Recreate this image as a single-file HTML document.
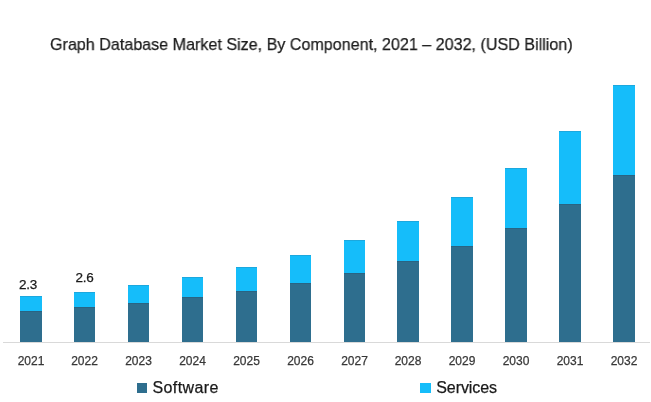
<!DOCTYPE html>
<html><head><meta charset="utf-8"><style>
html,body{margin:0;padding:0;background:#fff;}
body{width:651px;height:402px;position:relative;overflow:hidden;font-family:"Liberation Sans",sans-serif;}
.txt{will-change:transform;-webkit-text-stroke:0.25px currentColor;}
.t{position:absolute;left:50px;top:35px;font-size:17px;line-height:20px;color:#1c1c1c;white-space:nowrap;transform:scaleX(0.947);transform-origin:0 0;}
svg{position:absolute;left:0;top:0;}
.xl{position:absolute;top:354px;width:40px;text-align:center;font-size:12px;line-height:14px;color:#383838;}
.dl{position:absolute;font-size:13.5px;line-height:16px;letter-spacing:-0.3px;color:#1a1a1a;white-space:nowrap;}
.lg{position:absolute;top:378px;font-size:16px;line-height:19px;color:#1a1a1a;white-space:nowrap;}
.sq{position:absolute;top:383px;width:10px;height:10px;}
</style></head><body>
<svg width="651" height="402" viewBox="0 0 651 402" shape-rendering="crispEdges">
<rect x="3" y="342" width="647" height="1" fill="#d9d9d9"/>
<rect x="20" y="296" width="22" height="15" fill="#15BDFA"/>
<rect x="20" y="296" width="22" height="1" fill="#1CA8DE"/>
<rect x="20" y="311" width="22" height="31" fill="#2E6E8E"/>
<rect x="20" y="311" width="22" height="1" fill="#296483"/>
<rect x="74" y="292" width="21" height="15" fill="#15BDFA"/>
<rect x="74" y="292" width="21" height="1" fill="#1CA8DE"/>
<rect x="74" y="307" width="21" height="35" fill="#2E6E8E"/>
<rect x="74" y="307" width="21" height="1" fill="#296483"/>
<rect x="128" y="285" width="21" height="18" fill="#15BDFA"/>
<rect x="128" y="285" width="21" height="1" fill="#1CA8DE"/>
<rect x="128" y="303" width="21" height="39" fill="#2E6E8E"/>
<rect x="128" y="303" width="21" height="1" fill="#296483"/>
<rect x="182" y="277" width="21" height="20" fill="#15BDFA"/>
<rect x="182" y="277" width="21" height="1" fill="#1CA8DE"/>
<rect x="182" y="297" width="21" height="45" fill="#2E6E8E"/>
<rect x="182" y="297" width="21" height="1" fill="#296483"/>
<rect x="236" y="267" width="21" height="24" fill="#15BDFA"/>
<rect x="236" y="267" width="21" height="1" fill="#1CA8DE"/>
<rect x="236" y="291" width="21" height="51" fill="#2E6E8E"/>
<rect x="236" y="291" width="21" height="1" fill="#296483"/>
<rect x="290" y="255" width="21" height="28" fill="#15BDFA"/>
<rect x="290" y="255" width="21" height="1" fill="#1CA8DE"/>
<rect x="290" y="283" width="21" height="59" fill="#2E6E8E"/>
<rect x="290" y="283" width="21" height="1" fill="#296483"/>
<rect x="344" y="240" width="21" height="33" fill="#15BDFA"/>
<rect x="344" y="240" width="21" height="1" fill="#1CA8DE"/>
<rect x="344" y="273" width="21" height="69" fill="#2E6E8E"/>
<rect x="344" y="273" width="21" height="1" fill="#296483"/>
<rect x="397" y="221" width="22" height="40" fill="#15BDFA"/>
<rect x="397" y="221" width="22" height="1" fill="#1CA8DE"/>
<rect x="397" y="261" width="22" height="81" fill="#2E6E8E"/>
<rect x="397" y="261" width="22" height="1" fill="#296483"/>
<rect x="451" y="197" width="22" height="49" fill="#15BDFA"/>
<rect x="451" y="197" width="22" height="1" fill="#1CA8DE"/>
<rect x="451" y="246" width="22" height="96" fill="#2E6E8E"/>
<rect x="451" y="246" width="22" height="1" fill="#296483"/>
<rect x="505" y="168" width="22" height="60" fill="#15BDFA"/>
<rect x="505" y="168" width="22" height="1" fill="#1CA8DE"/>
<rect x="505" y="228" width="22" height="114" fill="#2E6E8E"/>
<rect x="505" y="228" width="22" height="1" fill="#296483"/>
<rect x="559" y="131" width="22" height="73" fill="#15BDFA"/>
<rect x="559" y="131" width="22" height="1" fill="#1CA8DE"/>
<rect x="559" y="204" width="22" height="138" fill="#2E6E8E"/>
<rect x="559" y="204" width="22" height="1" fill="#296483"/>
<rect x="613" y="85" width="22" height="90" fill="#15BDFA"/>
<rect x="613" y="85" width="22" height="1" fill="#1CA8DE"/>
<rect x="613" y="175" width="22" height="167" fill="#2E6E8E"/>
<rect x="613" y="175" width="22" height="1" fill="#296483"/>
</svg>
<div class="txt">
<div class="t" id="title">Graph Database Market Size, By Component, 2021 &ndash; 2032, (USD Billion)</div>
<div class="xl" style="left:11.0px">2021</div>
<div class="xl" style="left:64.5px">2022</div>
<div class="xl" style="left:118.5px">2023</div>
<div class="xl" style="left:172.5px">2024</div>
<div class="xl" style="left:226.5px">2025</div>
<div class="xl" style="left:280.5px">2026</div>
<div class="xl" style="left:334.5px">2027</div>
<div class="xl" style="left:388.0px">2028</div>
<div class="xl" style="left:442.0px">2029</div>
<div class="xl" style="left:496.0px">2030</div>
<div class="xl" style="left:550.0px">2031</div>
<div class="xl" style="left:604.0px">2032</div>
<div class="dl" id="d1" style="left:19px;top:277px">2.3</div>
<div class="dl" id="d2" style="left:75.5px;top:270px">2.6</div>
<div class="lg" id="lg1" style="left:152.5px;letter-spacing:0.4px">Software</div>
<div class="lg" id="lg2" style="left:436.3px;letter-spacing:-0.1px">Services</div>
</div>
<div class="sq" style="left:137px;background:#2E6E8E"></div>
<div class="sq" style="left:420px;width:11px;background:#15BDFA"></div>
</body></html>
